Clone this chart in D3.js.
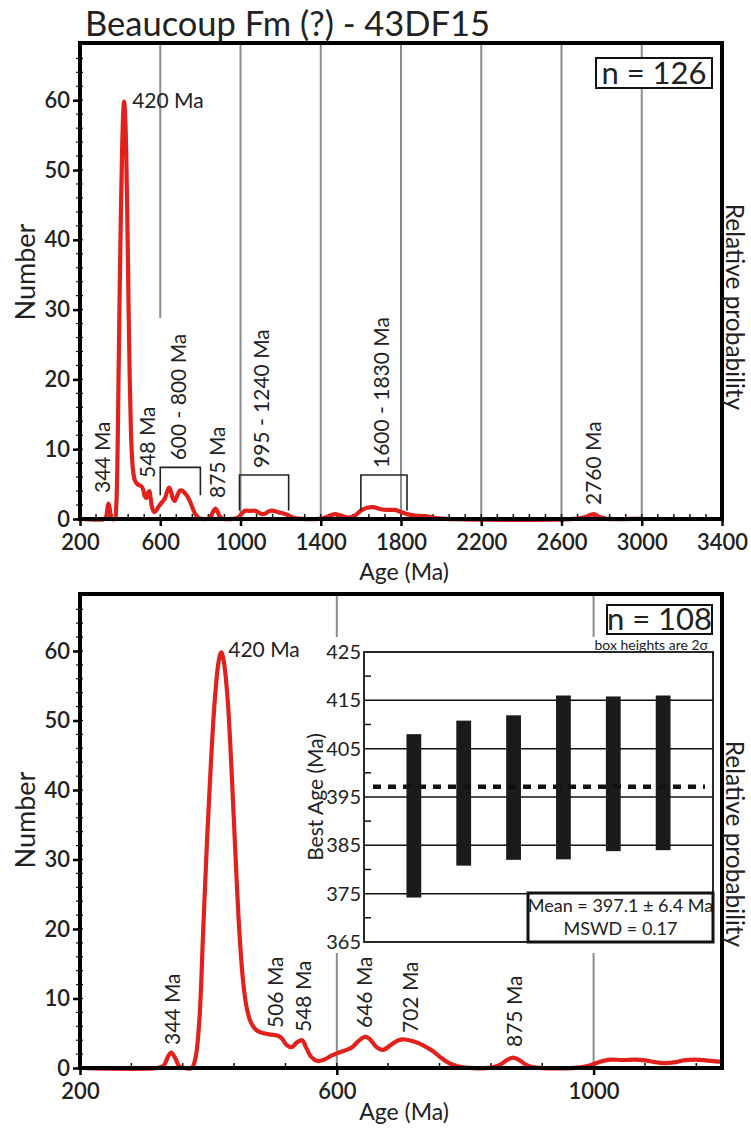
<!DOCTYPE html>
<html>
<head>
<meta charset="utf-8">
<script src="https://cdn.jsdelivr.net/npm/d3@7"></script>
<style>
  html, body { margin: 0; padding: 0; background: #fff; }
  svg { display: block; }
  text { font-family: Lato, "Open Sans", sans-serif; fill: #222; }
</style>
</head>
<body>
<svg id="chart" width="751" height="1135"></svg>
<script>
// ---- data -------------------------------------------------------------
// Probability-density curve (age in Ma, value on the "Number" scale)
const curveAges = [200, 320, 330, 338, 342, 348, 355, 362, 374, 380, 386, 392, 398, 404, 410, 416, 420, 424, 430, 436, 442, 448, 454, 460, 466, 474, 486, 498, 506, 514, 522, 530, 538, 546, 552, 560, 570, 580, 590, 600, 612, 624, 634, 644, 652, 662, 672, 684, 696, 706, 720, 736, 750, 762, 775, 790, 800, 840, 855, 866, 875, 885, 896, 910, 980, 995, 1010, 1025, 1045, 1065, 1080, 1095, 1110, 1125, 1140, 1158, 1175, 1190, 1200, 1215, 1235, 1260, 1290, 1400, 1430, 1470, 1500, 1540, 1570, 1600, 1630, 1660, 1700, 1730, 1770, 1800, 1830, 1870, 1920, 1960, 2000, 2680, 2720, 2760, 2790, 2820, 3000];
const curveValues = [0, 0, 0.3, 1.8, 2.2, 1.5, 0.2, 0, 0, 1.5, 7, 20, 33, 44, 53, 58.5, 59.8, 58.5, 53, 43, 31, 20, 12.5, 8.5, 6.6, 5.5, 5.0, 4.8, 4.7, 4.3, 3.3, 3.0, 3.7, 4.0, 3.0, 1.6, 1.0, 1.2, 1.7, 2.1, 2.5, 3.0, 3.9, 4.5, 4.1, 3.0, 2.6, 3.3, 4.0, 4.1, 3.8, 3.2, 2.4, 1.5, 0.7, 0.2, 0.05, 0.05, 0.5, 1.2, 1.5, 1.1, 0.4, 0.05, 0.1, 0.4, 0.9, 1.2, 1.15, 1.2, 1.1, 0.85, 0.7, 0.8, 1.1, 1.2, 1.1, 0.95, 0.9, 0.8, 0.6, 0.2, 0.05, 0.05, 0.3, 0.7, 0.5, 0.2, 0.5, 1.2, 1.6, 1.7, 1.4, 1.3, 1.3, 1.0, 0.7, 0.5, 0.4, 0.2, 0.05, 0.05, 0.3, 0.7, 0.3, 0.05, 0.05];

const yTicks = [0, 10, 20, 30, 40, 50, 60];
const topXTicks = [200, 600, 1000, 1400, 1800, 2200, 2600, 3000, 3400];
const bottomXTicks = [200, 600, 1000];

const titleText = "Beaucoup Fm (?) - 43DF15";
const topCount = "n = 126";
const bottomCount = "n = 108";

// peak annotations
const topPeakAges = [344, 548, 875, 2760];
const topPeakLabels = ["344 Ma", "548 Ma", "875 Ma", "2760 Ma"];
const bottomPeakAges = [344, 506, 548, 646, 702, 875];
const bottomPeakLabels = ["344 Ma", "506 Ma", "548 Ma", "646 Ma", "702 Ma", "875 Ma"];
const mainPeakAge = 420;
const mainPeakLabel = "420 Ma";

// age ranges bracketed in the upper panel
const rangeLo = [600, 995, 1600];
const rangeHi = [800, 1240, 1830];
const rangeLabels = ["600 - 800 Ma", "995 - 1240 Ma", "1600 - 1830 Ma"];

// weighted-mean inset: 2-sigma boxes of the youngest grains
const insetLo = [374.2, 380.8, 382.0, 382.1, 383.8, 384.0];
const insetHi = [408.0, 410.8, 411.9, 416.0, 415.8, 416.0];
const insetTicks = [365, 375, 385, 395, 405, 415, 425];
const insetMean = 397.1;
const insetErr = 6.4;
const insetMSWD = 0.17;

// ---- drawing ----------------------------------------------------------
const svg = d3.select("#chart");
const RED = "#e2211c";
const GRID = "#8c8c8c";

svg.append("text")
  .attr("x", 85).attr("y", 36)
  .attr("font-size", 34.5)
  .text(titleText);

const curveData = curveAges.map((a, i) => [a, curveValues[i]]);

function drawPanel(cfg) {
  const x = d3.scaleLinear().domain(cfg.xDomain).range([cfg.left, cfg.right]);
  const y = d3.scaleLinear().domain([0, 68.2]).range([cfg.bottom, cfg.top]);
  const g = svg.append("g");

  // vertical reference lines
  cfg.grid.forEach(seg => {
    g.append("line")
      .attr("x1", x(seg[0])).attr("x2", x(seg[0]))
      .attr("y1", seg[1]).attr("y2", seg[2])
      .attr("stroke", GRID).attr("stroke-width", 2);
  });

  // minor x ticks (inside)
  const minorX = d3.range(cfg.xDomain[0], cfg.xDomain[1] + 1, 80);
  g.selectAll(".mx").data(minorX).join("line")
    .attr("x1", d => x(d)).attr("x2", d => x(d))
    .attr("y1", cfg.bottom).attr("y2", cfg.bottom - 5)
    .attr("stroke", "#111").attr("stroke-width", 1.5);

  // minor y ticks
  const minorY = d3.range(0, 68, 2);
  g.selectAll(".my").data(minorY).join("line")
    .attr("x1", cfg.left - 4).attr("x2", cfg.left + 3)
    .attr("y1", d => y(d)).attr("y2", d => y(d))
    .attr("stroke", "#111").attr("stroke-width", 1.2);

  // density curve
  const clipId = "clip" + cfg.top;
  svg.append("clipPath").attr("id", clipId).append("rect")
    .attr("x", cfg.left).attr("y", cfg.top)
    .attr("width", cfg.right - cfg.left).attr("height", cfg.bottom - cfg.top + 3);
  const line = d3.line().x(d => x(d[0])).y(d => y(d[1])).curve(d3.curveCatmullRom.alpha(0.5));
  g.append("path")
    .datum(curveData.filter(d => d[0] <= cfg.curveEnd))
    .attr("clip-path", `url(#${clipId})`)
    .attr("d", line)
    .attr("fill", "none").attr("stroke", RED)
    .attr("stroke-width", 4.2).attr("stroke-linejoin", "round");

  // frame
  g.append("rect")
    .attr("x", cfg.left).attr("y", cfg.top)
    .attr("width", cfg.right - cfg.left).attr("height", cfg.bottom - cfg.top)
    .attr("fill", "none").attr("stroke", "#000").attr("stroke-width", 4);

  // axes
  const xAxis = g.append("g")
    .attr("transform", `translate(0,${cfg.bottom})`)
    .call(d3.axisBottom(x).tickValues(cfg.xTicks).tickSize(7).tickPadding(8).tickFormat(d3.format("d")));
  xAxis.select(".domain").remove();
  xAxis.selectAll(".tick line").attr("stroke", "#000").attr("stroke-width", 2.5);
  xAxis.selectAll(".tick text")
    .attr("font-size", 22).attr("font-weight", 600)
    .attr("font-family", "Lato, sans-serif").attr("fill", "#111");

  const yAxis = g.append("g")
    .attr("transform", `translate(${cfg.left},0)`)
    .call(d3.axisLeft(y).tickValues(yTicks).tickSize(7).tickPadding(3));
  yAxis.select(".domain").remove();
  yAxis.selectAll(".tick line").attr("stroke", "#000").attr("stroke-width", 2.5);
  yAxis.selectAll(".tick text")
    .attr("font-size", 22).attr("font-weight", 600)
    .attr("font-family", "Lato, sans-serif").attr("fill", "#111");

  // axis titles
  g.append("text")
    .attr("x", 404).attr("y", cfg.bottom + cfg.ageDy)
    .attr("text-anchor", "middle").attr("font-size", 23)
    .text("Age (Ma)");
  g.append("text")
    .attr("transform", `translate(26,${cfg.numberY}) rotate(-90)`)
    .attr("dy", "0.35em")
    .attr("text-anchor", "middle").attr("font-size", 27)
    .text("Number");
  g.append("text")
    .attr("transform", `translate(735,${cfg.probY}) rotate(90)`)
    .attr("dy", "0.35em")
    .attr("text-anchor", "middle").attr("font-size", 24.5)
    .text("Relative probability");

  // sample size box
  const nb = cfg.nBox;
  g.append("rect")
    .attr("x", nb[0]).attr("y", nb[1]).attr("width", nb[2]).attr("height", nb[3])
    .attr("fill", "#fff").attr("stroke", "#111").attr("stroke-width", 2);
  g.append("text")
    .attr("x", nb[0] + nb[2] / 2).attr("y", nb[1] + nb[3] - 4)
    .attr("text-anchor", "middle").attr("font-size", 31)
    .text(cfg.nText);

  // main peak label
  g.append("text")
    .attr("x", x(mainPeakAge) + cfg.mainDx).attr("y", cfg.mainY)
    .attr("font-size", 21)
    .text(mainPeakLabel);

  // rotated peak labels
  cfg.peakAges.forEach((a, i) => {
    g.append("text")
      .attr("transform", `translate(${x(a) + cfg.peakDx[i]},${cfg.peakY[i]}) rotate(-90)`)
      .attr("dy", "0.35em")
      .attr("font-size", 21)
      .text(cfg.peakLabels[i]);
  });

  return { g, x, y };
}

// upper panel: full age range
const upperPanel = drawPanel({
  left: 80, right: 722, top: 43, bottom: 519,
  xDomain: [200, 3400], xTicks: topXTicks, curveEnd: 3000,
  grid: [[600, 43, 318], [1000, 43, 519], [1400, 43, 519], [1800, 43, 519],
         [2200, 43, 519], [2600, 43, 519], [3000, 43, 519]],
  numberY: 272, probY: 307, ageDy: 61,
  nBox: [596, 58, 116, 30], nText: topCount,
  mainDx: 8, mainY: 108,
  peakAges: topPeakAges, peakLabels: topPeakLabels,
  peakDx: [-6, -2, 2, 0], peakY: [493, 478, 498, 505]
});

// range brackets with labels
rangeLo.forEach((lo, i) => {
  const hi = rangeHi[i];
  const x0 = upperPanel.x(lo), x1 = upperPanel.x(hi);
  const yt = upperPanel.y(i === 0 ? 7.4 : 6.3);
  const yb = upperPanel.y(i === 0 ? 3.4 : 1.2);
  upperPanel.g.append("path")
    .attr("d", `M${x0},${yb}V${yt}H${x1}V${yb}`)
    .attr("fill", "none").attr("stroke", "#222").attr("stroke-width", 1.6);
  upperPanel.g.append("text")
    .attr("transform", `translate(${(x0 + x1) / 2 - 2},${yt - 7}) rotate(-90)`)
    .attr("dy", "0.35em")
    .attr("font-size", 21)
    .text(rangeLabels[i]);
});

// lower panel: zoom on the young population
const lowerPanel = drawPanel({
  left: 80, right: 722, top: 594, bottom: 1068,
  xDomain: [200, 1200], xTicks: bottomXTicks, curveEnd: 1300,
  grid: [[600, 594, 637], [600, 953, 1068], [1000, 594, 637], [1000, 953, 1068]],
  numberY: 820, probY: 844, ageDy: 52,
  nBox: [607, 605, 105, 29], nText: bottomCount,
  mainDx: 7, mainY: 657,
  peakAges: bottomPeakAges, peakLabels: bottomPeakLabels,
  peakDx: [0, -1, 0, -2, 8, 1], peakY: [1045, 1028, 1032, 1028, 1033, 1047]
});

// ---- weighted-mean inset ----------------------------------------------
const inset = { left: 364, right: 713, top: 652, bottom: 942 };
const ix = d3.scaleLinear().domain([0, insetLo.length + 1]).range([inset.left, inset.right]);
const iy = d3.scaleLinear().domain([365, 425]).range([inset.bottom, inset.top]);
const ig = svg.append("g");

ig.append("rect")
  .attr("x", inset.left).attr("y", inset.top)
  .attr("width", inset.right - inset.left).attr("height", inset.bottom - inset.top)
  .attr("fill", "#fff");

ig.selectAll(".ig").data(insetTicks.slice(1, -1)).join("line")
  .attr("x1", inset.left).attr("x2", inset.right)
  .attr("y1", d => iy(d)).attr("y2", d => iy(d))
  .attr("stroke", "#111").attr("stroke-width", 1.5);

ig.selectAll(".im").data(d3.range(370, 425, 10)).join("line")
  .attr("x1", inset.left).attr("x2", inset.left + 7)
  .attr("y1", d => iy(d)).attr("y2", d => iy(d))
  .attr("stroke", "#111").attr("stroke-width", 1.5);

ig.selectAll(".bar").data(insetLo).join("rect")
  .attr("x", (d, i) => ix(i + 1) - 7.4)
  .attr("width", 14.8)
  .attr("y", (d, i) => iy(insetHi[i]))
  .attr("height", (d, i) => iy(d) - iy(insetHi[i]))
  .attr("fill", "#1b1b1b");

ig.append("line")
  .attr("x1", inset.left + 9).attr("x2", inset.right - 8)
  .attr("y1", iy(insetMean)).attr("y2", iy(insetMean))
  .attr("stroke", "#111").attr("stroke-width", 4.5)
  .attr("stroke-dasharray", "8,7");

ig.append("rect")
  .attr("x", inset.left).attr("y", inset.top)
  .attr("width", inset.right - inset.left).attr("height", inset.bottom - inset.top)
  .attr("fill", "none").attr("stroke", "#111").attr("stroke-width", 1.8);

const iAxis = ig.append("g")
  .attr("transform", `translate(${inset.left},0)`)
  .call(d3.axisLeft(iy).tickValues(insetTicks).tickSize(0).tickPadding(3));
iAxis.select(".domain").remove();
iAxis.selectAll(".tick text")
  .attr("font-size", 20).attr("font-family", "Lato, sans-serif").attr("fill", "#222");

ig.append("text")
  .attr("transform", `translate(316,${(inset.top + inset.bottom) / 2}) rotate(-90)`)
  .attr("dy", "0.35em")
  .attr("text-anchor", "middle").attr("font-size", 21)
  .text("Best Age (Ma)");

ig.append("text")
  .attr("x", 708).attr("y", 650)
  .attr("text-anchor", "end").attr("font-size", 14)
  .text("box heights are 2σ");

// statistics box
ig.append("rect")
  .attr("x", 528).attr("y", 893).attr("width", 185).attr("height", 49)
  .attr("fill", "#fff").attr("stroke", "#111").attr("stroke-width", 3);
ig.append("text")
  .attr("x", 620.5).attr("y", 912)
  .attr("text-anchor", "middle").attr("font-size", 18)
  .text(`Mean = ${insetMean.toFixed(1)} ± ${insetErr.toFixed(1)} Ma`);
ig.append("text")
  .attr("x", 620.5).attr("y", 935)
  .attr("text-anchor", "middle").attr("font-size", 18)
  .text(`MSWD = ${insetMSWD.toFixed(2)}`);
</script>
</body>
</html>
